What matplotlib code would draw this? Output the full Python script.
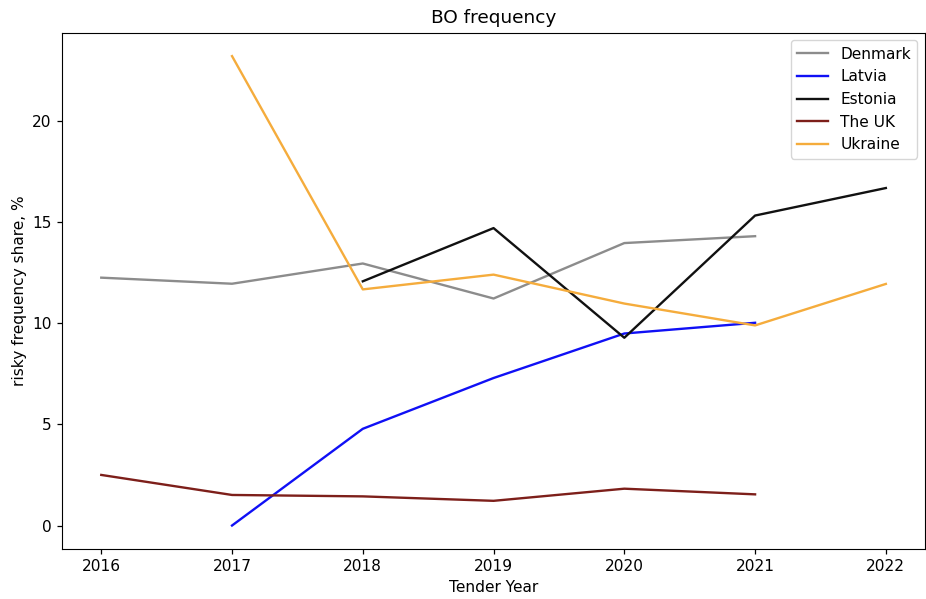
import numpy as np
import matplotlib
matplotlib.use("Agg")
import matplotlib.pyplot as plt

years = [2016, 2017, 2018, 2019, 2020, 2021, 2022]
nan = np.nan

denmark = [12.25, 11.95, 12.95, 11.22, 13.96, 14.3, nan]
latvia = [nan, 0.0, 4.78, 7.29, 9.49, 10.02, nan]
estonia = [nan, nan, 12.07, 14.7, 9.28, 15.32, 16.68]
uk = [2.5, 1.51, 1.44, 1.22, 1.82, 1.54, nan]
ukraine = [nan, 23.2, 11.67, 12.4, 10.97, 9.89, 11.94]

series = [
    ("Denmark", denmark, "#8c8c8c"),
    ("Latvia", latvia, "#1010f5"),
    ("Estonia", estonia, "#111111"),
    ("The UK", uk, "#7d1f1a"),
    ("Ukraine", ukraine, "#f5ac3c"),
]

plt.rcParams["font.size"] = 11.1

fig = plt.figure(figsize=(9.26, 5.99), dpi=100)
ax = fig.add_axes([0.067, 0.0835, 0.932, 0.862])

for name, vals, color in series:
    ax.plot(years, vals, color=color, lw=1.7, label=name)

ax.set_title("BO frequency", fontsize=13.3, pad=6.6)
ax.set_xlabel("Tender Year")
ax.set_ylabel("risky frequency share, %")
ax.set_xticks(years)
ax.set_yticks([0, 5, 10, 15, 20])
ax.tick_params(length=3.9, width=0.9)
ax.legend(loc="upper right")

fig.savefig("out.png", dpi=100)
